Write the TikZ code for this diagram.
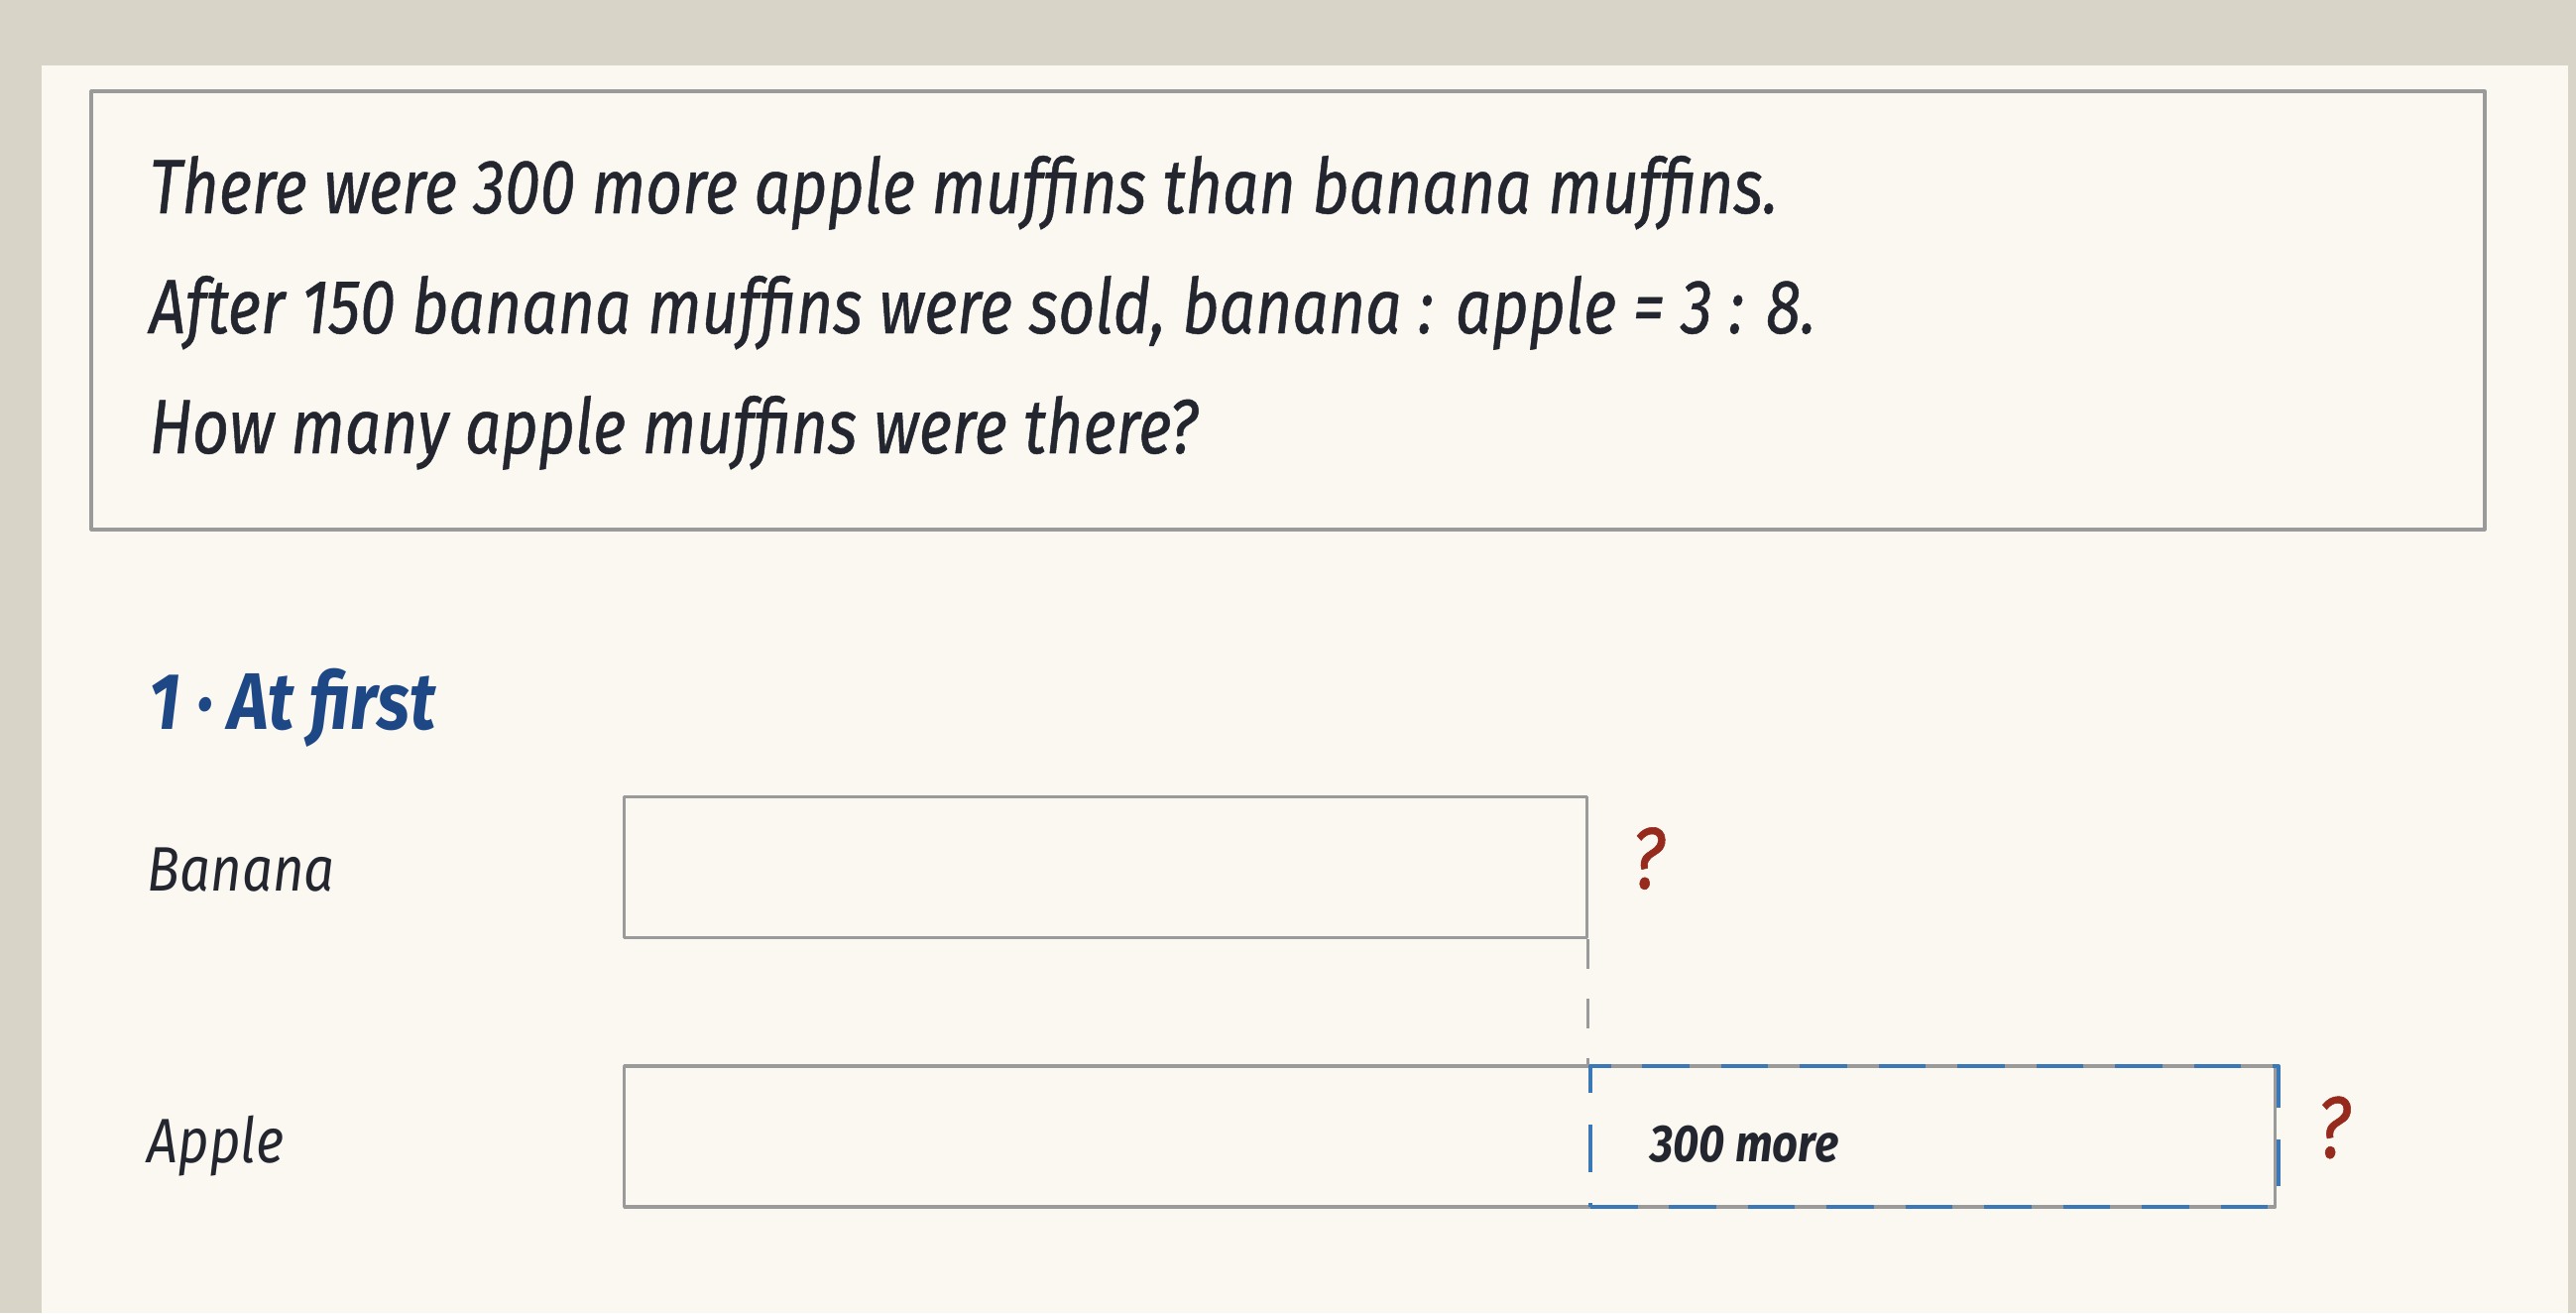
\documentclass[tikz,border=0pt]{standalone}
\usepackage{fontspec}
\setmainfont{Fira Sans}[FakeStretch=0.86]
\newfontfamily\probfont{Fira Sans}[FakeStretch=0.83, FakeBold=0.6]
\usepackage{xcolor}
\usepackage{tikz}
\usetikzlibrary{positioning}

\definecolor{desk}{HTML}{D8D4C8}
\definecolor{paper}{HTML}{FAF8F0}
\definecolor{inkdark}{HTML}{23252F}
\definecolor{inkblue}{HTML}{1D4785}
\definecolor{inkred}{HTML}{962A1C}
\definecolor{pencil}{HTML}{9A9A9A}
\definecolor{dashblue}{HTML}{3A78B8}

\begin{document}
\begin{tikzpicture}[
  x=0.01cm, y=-0.01cm,
  line join=round,
  prob/.style={anchor=base west, inner sep=0pt, text=inkdark,
               font=\probfont\itshape\fontsize{22}{26}\selectfont},
  head/.style={anchor=base west, inner sep=0pt, text=inkblue,
               font=\bfseries\itshape\fontsize{23}{27}\selectfont},
  lbl/.style={anchor=base west, inner sep=0pt, text=inkdark,
              font=\itshape\fontsize{18}{22}\selectfont},
  bar/.style={rectangle, draw=pencil, line width=0.9pt, inner sep=0pt,
              minimum height=1.42cm},
  morebox/.style={rectangle, draw=dashblue, line width=1.1pt, inner sep=0pt,
                  dash pattern=on 13.6pt off 9pt, minimum height=1.42cm,
                  minimum width=6.94cm},
  ask/.style={inner sep=0pt, text=inkred,
              font=\probfont\itshape\fontsize{25}{28}\selectfont},
  guide/.style={draw=pencil, line width=0.9pt, dash pattern=on 8.5pt off 8.5pt}
]

% --- Page ---
\fill[desk] (0,0) rectangle (2598,1324);
\useasboundingbox (0,0) rectangle (2598,1324);
\fill[paper] (42,66) rectangle (2590,1324);

% --- Problem ---
\draw[draw=pencil, line width=0.9pt] (92,92) rectangle (2506,534);
\node[prob] (line1) at (150,215) {There were 300 more apple muffins than banana muffins.};
\node[prob] (line2) at (150,336) {After 150 banana muffins were sold, banana : apple = 3 : 8.};
\node[prob] (line3) at (150,457) {How many apple muffins were there?};

% --- Step 1 ---
\node[head] (step1) at (150,735) {1 · At first};

\node[bar, minimum width=9.70cm, anchor=north west] (banana) at (628,802) {};
\node[bar, minimum width=16.64cm, below=1.26cm of banana.south west,
      anchor=north west] (apple) {};
\node[morebox, anchor=north west] (more) at (banana.south east |- apple.north) {};

\node[lbl] (bananalbl) at (148,898) {Banana};
\node[lbl] (applelbl)  at (148,1172) {Apple};

\node[lbl, font=\bfseries\itshape\fontsize{15}{18}\selectfont]
  (diff) at ([xshift=0.62cm, yshift=-0.25cm]more.west) {300 more};

\node[ask, right=0.43cm of banana, yshift=0.09cm] (q1) {?};
\node[ask, right=0.40cm of apple, yshift=0.09cm]  (q2) {?};

\draw[guide] (banana.south east) -- (more.north west);

\end{tikzpicture}
\end{document}
